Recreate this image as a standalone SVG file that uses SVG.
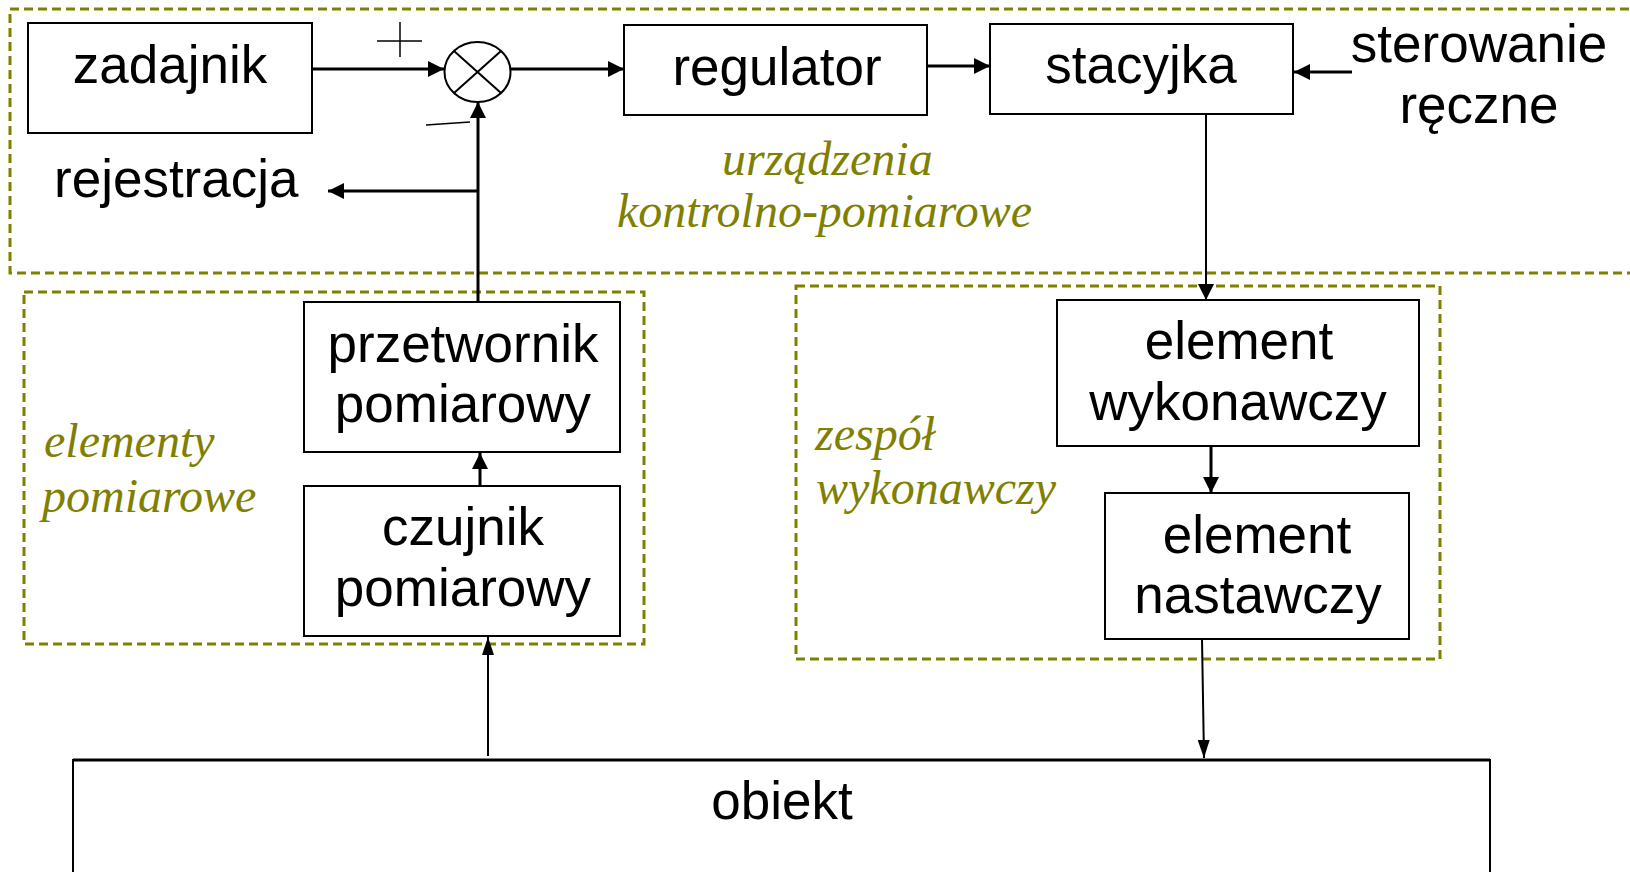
<svg xmlns="http://www.w3.org/2000/svg" width="1630" height="872" viewBox="0 0 1630 872">
<style>
.box{fill:#fff;stroke:#000;stroke-width:2}
.grp{fill:none;stroke:#808000;stroke-width:3;stroke-dasharray:9 5}
.t{font-family:"Liberation Sans",Arial,sans-serif;font-size:53px;fill:#000}
.c{text-anchor:middle}
.i{font-family:"Liberation Serif","Times New Roman",serif;font-style:italic;font-size:48px;fill:#808000}
.ln{fill:none;stroke:#000;stroke-width:3}
.ln2{fill:none;stroke:#000;stroke-width:2}
.thin{fill:none;stroke:#000;stroke-width:1.5}
</style>
<defs>
<marker id="ah" markerUnits="userSpaceOnUse" markerWidth="16" markerHeight="16" viewBox="0 0 16 16" refX="16" refY="8" orient="auto"><path d="M0,0 L16,8 L0,16 z" fill="#000"/></marker>
<marker id="ahs" markerUnits="userSpaceOnUse" markerWidth="18" markerHeight="12" viewBox="0 0 18 12" refX="18" refY="6" orient="auto"><path d="M0,0 L18,6 L0,12 z" fill="#000"/></marker>
</defs>
<rect width="1630" height="872" fill="#fff"/>

<g id="groups">
<rect class="grp" x="10" y="9" width="1640" height="264"/>
<rect class="grp" x="24" y="292" width="620" height="352"/>
<rect class="grp" x="796" y="286" width="644" height="373"/>
<text class="i" x="722" y="175">urządzenia</text>
<text class="i" x="617" y="227">kontrolno-pomiarowe</text>
<text class="i" x="44" y="457">elementy</text>
<text class="i" x="42" y="512">pomiarowe</text>
<text class="i" x="815" y="450">zespół</text>
<text class="i" x="816" y="504">wykonawczy</text>
</g>

<g id="zadajnik">
<rect class="box" x="28" y="23" width="284" height="110"/>
<text class="t c" x="170" y="83">zadajnik</text>
</g>

<g id="sumator">
<ellipse cx="477.5" cy="72" rx="33" ry="30" fill="#fff" stroke="#000" stroke-width="2"/>
<line class="ln2" x1="454" y1="51" x2="501" y2="93"/>
<line class="ln2" x1="501" y1="51" x2="454" y2="93"/>
<line class="thin" x1="377" y1="41" x2="422" y2="41"/>
<line class="thin" x1="400" y1="22" x2="400" y2="57"/>
<line class="thin" x1="426" y1="125" x2="470" y2="122"/>
</g>

<g id="regulator">
<rect class="box" x="624" y="25" width="303" height="90"/>
<text class="t c" x="777" y="85">regulator</text>
</g>

<g id="stacyjka">
<rect class="box" x="990" y="24" width="303" height="90"/>
<text class="t c" x="1141" y="83">stacyjka</text>
</g>

<g id="sterowanie">
<text class="t c" x="1479" y="62">sterowanie</text>
<text class="t c" x="1479" y="123">ręczne</text>
</g>

<g id="rejestracja">
<text class="t" x="54" y="197">rejestracja</text>
</g>

<g id="przetwornik">
<rect class="box" x="304" y="302" width="316" height="150"/>
<text class="t c" x="463" y="362">przetwornik</text>
<text class="t c" x="463" y="422">pomiarowy</text>
</g>

<g id="czujnik">
<rect class="box" x="304" y="486" width="316" height="150"/>
<text class="t c" x="463" y="545">czujnik</text>
<text class="t c" x="463" y="606">pomiarowy</text>
</g>

<g id="wykonawczy">
<rect class="box" x="1057" y="300" width="362" height="146"/>
<text class="t c" x="1239" y="359">element</text>
<text class="t c" x="1238" y="420">wykonawczy</text>
</g>

<g id="nastawczy">
<rect class="box" x="1105" y="493" width="304" height="146"/>
<text class="t c" x="1257" y="553">element</text>
<text class="t c" x="1258" y="613">nastawczy</text>
</g>

<g id="obiekt">
<rect class="box" x="73" y="760" width="1417" height="130"/>
<line x1="73" y1="760" x2="1490" y2="760" stroke="#000" stroke-width="3"/>
<text class="t c" x="782" y="819">obiekt</text>
</g>

<g id="connectors">
<line class="ln" x1="312" y1="69" x2="444" y2="69" marker-end="url(#ah)"/>
<line class="ln" x1="511" y1="69" x2="624" y2="69" marker-end="url(#ah)"/>
<line class="ln" x1="927" y1="66" x2="990" y2="66" marker-end="url(#ah)"/>
<line class="ln" x1="1352" y1="72" x2="1294" y2="72" marker-end="url(#ah)"/>
<line class="ln" x1="478" y1="302" x2="478" y2="102" marker-end="url(#ah)"/>
<line class="ln" x1="478" y1="191" x2="328" y2="191" marker-end="url(#ah)"/>
<line class="ln2" x1="1206" y1="114" x2="1206" y2="300" marker-end="url(#ah)"/>
<line class="ln" x1="1211" y1="446" x2="1211" y2="493" marker-end="url(#ah)"/>
<line class="ln2" x1="1202" y1="639" x2="1204" y2="758" marker-end="url(#ahs)"/>
<line class="ln2" x1="488" y1="756" x2="488" y2="637" marker-end="url(#ahs)"/>
<line class="ln" x1="480" y1="486" x2="480" y2="453" marker-end="url(#ah)"/>
</g>
</svg>
